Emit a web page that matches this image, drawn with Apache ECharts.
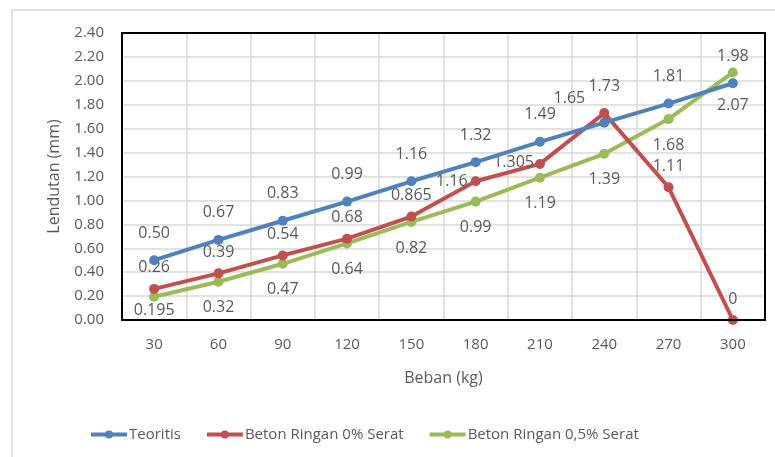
<!DOCTYPE html>
<html>
<head>
<meta charset="utf-8">
<script src="https://cdn.jsdelivr.net/npm/echarts@6/dist/echarts.min.js"></script>
<style>
  html, body { margin: 0; padding: 0; background: #fff; }
  #chart { width: 775px; height: 457px; }
</style>
</head>
<body>
<div id="chart"></div>
<script>
// Load (kg) on the category axis
const beban = ['30', '60', '90', '120', '150', '180', '210', '240', '270', '300'];

// Deflection (mm) for each series
const teoritis = [0.50, 0.67, 0.83, 0.99, 1.16, 1.32, 1.49, 1.65, 1.81, 1.98];
const serat0 = [0.26, 0.39, 0.54, 0.68, 0.865, 1.16, 1.305, 1.73, 1.11, 0];
const serat05 = [0.195, 0.32, 0.47, 0.64, 0.82, 0.99, 1.19, 1.39, 1.68, 2.07];

const seriesNames = ['Teoritis', 'Beton Ringan 0% Serat', 'Beton Ringan 0,5% Serat'];
const colors = ['#4f81bd', '#c0504d', '#9bbb59'];

const FONT = '"Open Sans", "Noto Sans", sans-serif';
const TXT = '#595959';
const GRIDLINE = { show: true, lineStyle: { color: '#d9d9d9', width: 1.5 } };

// Bare axis used only to draw one black edge of the plot frame
function frameX(pos) {
  return {
    type: 'category', data: beban, position: pos, z: 10,
    axisLine: { show: true, onZero: false, lineStyle: { color: '#000', width: 2 } },
    axisTick: { show: false }, axisLabel: { show: false }, splitLine: { show: false }
  };
}
function frameY(pos) {
  return {
    type: 'value', position: pos, min: 0, max: 2.4, interval: 0.2, z: 10,
    axisLine: { show: true, onZero: false, lineStyle: { color: '#000', width: 2 } },
    axisTick: { show: false }, axisLabel: { show: false }, splitLine: { show: false }
  };
}

// Per-point label tweaks where labels would collide
function withLabels(values, tweaks) {
  return values.map((v, i) => tweaks[i] ? Object.assign({ value: v }, tweaks[i]) : v);
}

const chart = echarts.init(document.getElementById('chart'), null, { renderer: 'canvas' });

const baseLabel = { show: true, color: TXT, fontFamily: FONT, fontSize: 16 };

function fmt2(p) { return Number(p.value).toFixed(2); }

chart.setOption({
  animation: false,
  textStyle: { fontFamily: FONT },
  graphic: [{
    type: 'rect',
    shape: { x: 12, y: 10, width: 800, height: 500 },
    style: { fill: 'none', stroke: '#d9d9d9', lineWidth: 1.5 },
    silent: true, z: -1
  }],
  grid: { left: 122, right: 10, top: 33, bottom: 137 },
  legend: {
    left: 84, top: 422,
    itemWidth: 36, itemHeight: 10, itemGap: 24,
    lineStyle: { width: 4 },
    textStyle: { color: TXT, fontSize: 15, fontFamily: FONT, padding: [0, 0, 0, -3] },
    data: seriesNames
  },
  xAxis: [{
    type: 'category',
    data: beban,
    boundaryGap: true,
    name: 'Beban (kg)',
    nameLocation: 'middle',
    nameGap: 50,
    nameTextStyle: { color: TXT, fontSize: 16, fontFamily: FONT },
    axisLine: { show: false, onZero: false },
    axisTick: { show: false },
    axisLabel: { color: TXT, fontSize: 15, fontFamily: FONT, margin: 17 },
    splitLine: GRIDLINE,
    z: 0
  }, frameX('top'), frameX('bottom')],
  yAxis: [{
    type: 'value',
    min: 0, max: 2.4, interval: 0.2,
    name: 'Lendutan (mm)',
    nameLocation: 'middle',
    nameGap: 60,
    nameTextStyle: { color: TXT, fontSize: 16, fontFamily: FONT },
    axisLine: { show: false },
    axisTick: { show: false },
    axisLabel: { color: TXT, fontSize: 15, fontFamily: FONT, margin: 18, formatter: v => v.toFixed(2) },
    splitLine: GRIDLINE,
    z: 0
  }, frameY('right'), frameY('left')],
  series: [
    {
      name: seriesNames[0], type: 'line', z: 3,
      data: withLabels(teoritis, {
        7: { label: { position: 'left', offset: [0, -24] } }
      }),
      color: colors[0],
      lineStyle: { width: 4 },
      symbol: 'circle', symbolSize: 10,
      label: Object.assign({}, baseLabel, { position: 'top', distance: 14, formatter: fmt2 })
    },
    {
      name: seriesNames[1], type: 'line', z: 2,
      data: withLabels(serat0, {
        5: { label: { position: 'left', distance: 3 } },
        6: { label: { position: 'left', offset: [2, -2], distance: 3 } },
        7: { label: { position: 'top', distance: 14 } }
      }),
      color: colors[1],
      lineStyle: { width: 4 },
      symbol: 'circle', symbolSize: 10,
      label: Object.assign({}, baseLabel, { position: 'top', distance: 8 })
    },
    {
      name: seriesNames[2], type: 'line', z: 1,
      data: withLabels(serat05, {
        0: { label: { position: 'bottom', distance: 1 } },
        9: { label: { position: 'bottom', distance: 20 } }
      }),
      color: colors[2],
      lineStyle: { width: 4 },
      symbol: 'circle', symbolSize: 10,
      label: Object.assign({}, baseLabel, { position: 'bottom', distance: 13 })
    }
  ]
});
</script>
</body>
</html>
